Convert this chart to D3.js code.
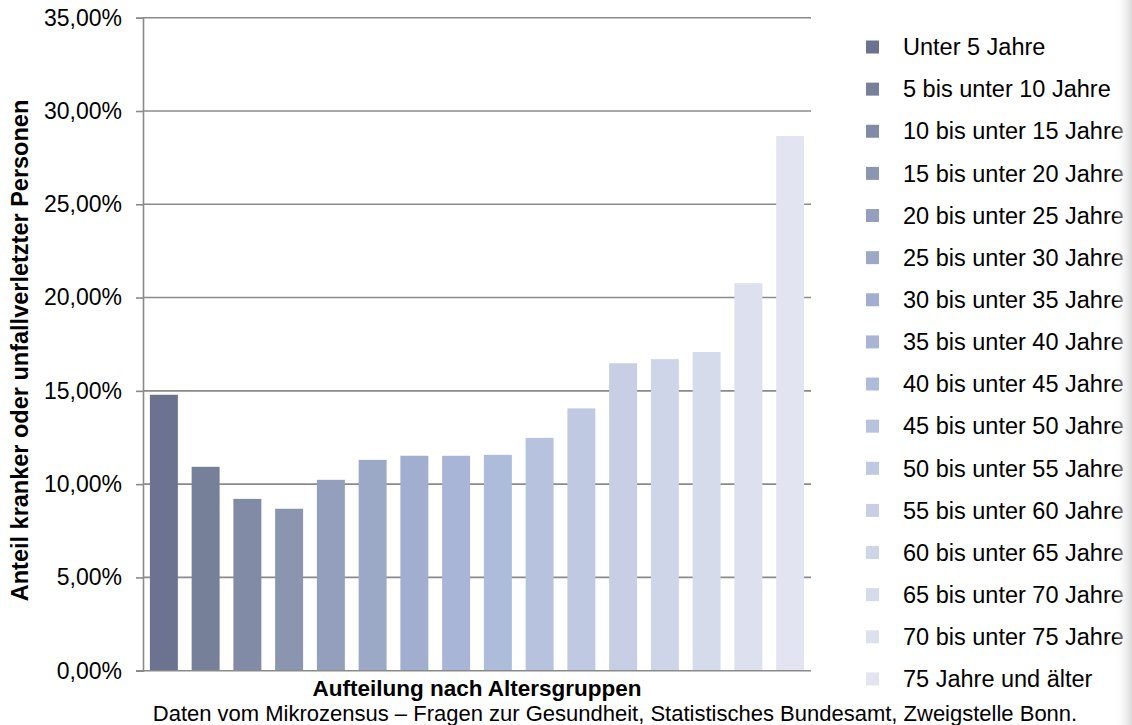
<!DOCTYPE html>
<html>
<head>
<meta charset="utf-8">
<script src="https://cdn.jsdelivr.net/npm/d3@7"></script>
<style>
  html, body { margin: 0; padding: 0; background: #ffffff; }
  svg { display: block; font-family: "Liberation Sans", Arial, sans-serif; }
</style>
</head>
<body>
<svg id="chart" width="1132" height="725"></svg>
<script>
// Altersgruppen (Kategorien)
const categories = [
  "Unter 5 Jahre", "5 bis unter 10 Jahre", "10 bis unter 15 Jahre", "15 bis unter 20 Jahre",
  "20 bis unter 25 Jahre", "25 bis unter 30 Jahre", "30 bis unter 35 Jahre", "35 bis unter 40 Jahre",
  "40 bis unter 45 Jahre", "45 bis unter 50 Jahre", "50 bis unter 55 Jahre", "55 bis unter 60 Jahre",
  "60 bis unter 65 Jahre", "65 bis unter 70 Jahre", "70 bis unter 75 Jahre", "75 Jahre und älter"
];

// Anteil kranker oder unfallverletzter Personen in Prozent
const values = [14.79, 10.93, 9.21, 8.68, 10.23, 11.30, 11.52, 11.52,
                11.57, 12.48, 14.06, 16.48, 16.70, 17.08, 20.77, 28.66];

// Farbe je Altersgruppe
const colors = [
  "#6b7390", "#778099", "#818ba5", "#8a95b0", "#939fbc", "#9ba8c6", "#a2aecf", "#a8b5d6",
  "#aebcdc", "#b7c2df", "#c0c9e2", "#c8cfe5", "#cfd5e8", "#d6dbeb", "#dde0ee", "#e2e5f1"
];

// Achsenbeschriftung der y-Achse
const yTicks = [0, 5, 10, 15, 20, 25, 30, 35];

const yTitle = "Anteil kranker oder unfallverletzter Personen";
const xTitle = "Aufteilung nach Altersgruppen";
const source = "Daten vom Mikrozensus \u2013 Fragen zur Gesundheit, Statistisches Bundesamt, Zweigstelle Bonn.";

const svg = d3.select("#chart");
const plot = { left: 143, right: 811, top: 17.7, bottom: 670.7 };

const de = d3.formatLocale({ decimal: ",", thousands: ".", grouping: [3], currency: ["", " €"] });
const fmt = v => de.format(".2f")(v) + "%";

const x = d3.scaleBand()
  .domain(categories)
  .range([plot.left, plot.right])
  .paddingInner(0.33)
  .paddingOuter(0.165);

const y = d3.scaleLinear()
  .domain([0, 35])
  .range([plot.bottom, plot.top]);

const color = d3.scaleOrdinal().domain(categories).range(colors);

const axisColor = "#8a8a8a";

// Gitternetzlinien
svg.append("g")
  .selectAll("line")
  .data(yTicks.filter(t => t > 0))
  .join("line")
  .attr("x1", plot.left)
  .attr("x2", plot.right)
  .attr("y1", d => y(d))
  .attr("y2", d => y(d))
  .attr("stroke", axisColor)
  .attr("stroke-width", 1.6);

// Balken
svg.append("g")
  .selectAll("rect")
  .data(categories)
  .join("rect")
  .attr("x", d => x(d))
  .attr("width", x.bandwidth())
  .attr("y", (d, i) => y(values[i]))
  .attr("height", (d, i) => y(0) - y(values[i]))
  .attr("fill", d => color(d));

// y-Achse
const yAxis = svg.append("g")
  .attr("transform", `translate(${plot.left},0)`)
  .call(d3.axisLeft(y).tickValues(yTicks).tickFormat(fmt).tickSize(7).tickPadding(14));
yAxis.select(".domain").attr("stroke", axisColor).attr("stroke-width", 1.6);
yAxis.selectAll(".tick line").attr("stroke", axisColor).attr("stroke-width", 1.6);
yAxis.selectAll(".tick text")
  .attr("fill", "#000")
  .style("font-size", "23px")
  .style("font-family", "'Liberation Sans', Arial, sans-serif");

// x-Achse (Grundlinie)
svg.append("line")
  .attr("x1", plot.left - 7)
  .attr("x2", plot.right)
  .attr("y1", y(0))
  .attr("y2", y(0))
  .attr("stroke", axisColor)
  .attr("stroke-width", 1.6);

// Achsentitel
svg.append("text")
  .attr("transform", `translate(28,${(98 + 603) / 2}) rotate(-90)`)
  .attr("text-anchor", "middle")
  .style("font-size", "23.5px")
  .style("font-weight", "bold")
  .text(yTitle);

svg.append("text")
  .attr("x", (plot.left + plot.right) / 2)
  .attr("y", 696)
  .attr("text-anchor", "middle")
  .style("font-size", "22.5px")
  .style("font-weight", "bold")
  .text(xTitle);

svg.append("text")
  .attr("x", 615)
  .attr("y", 721)
  .attr("text-anchor", "middle")
  .style("font-size", "22px")
  .text(source);

// Legende
const legend = svg.append("g")
  .selectAll("g")
  .data(categories)
  .join("g")
  .attr("transform", (d, i) => `translate(866,${47 + i * 42.13})`);

legend.append("rect")
  .attr("x", 0)
  .attr("y", -6.5)
  .attr("width", 13)
  .attr("height", 13)
  .attr("fill", d => color(d));

legend.append("text")
  .attr("x", 37)
  .attr("dy", "0.35em")
  .style("font-size", "23.5px")
  .text(d => d);

// Schatten am rechten Rand
const defs = svg.append("defs");
const grad = defs.append("linearGradient").attr("id", "edge").attr("x1", "0").attr("x2", "1");
grad.append("stop").attr("offset", "0").attr("stop-color", "#ffffff").attr("stop-opacity", 0);
grad.append("stop").attr("offset", "1").attr("stop-color", "#d9d9d9").attr("stop-opacity", 1);
svg.append("rect")
  .attr("x", 1114)
  .attr("y", 0)
  .attr("width", 18)
  .attr("height", 725)
  .attr("fill", "url(#edge)");
</script>
</body>
</html>
